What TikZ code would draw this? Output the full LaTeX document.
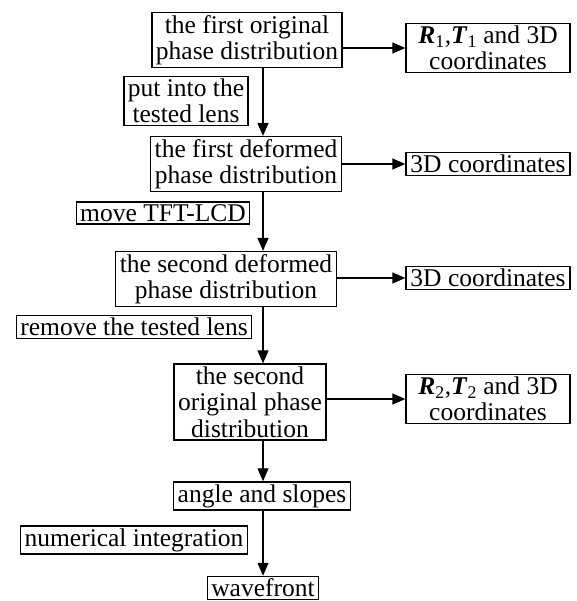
\documentclass[tikz,border=0pt]{standalone}
\usepackage{fontspec}
\setmainfont{Liberation Serif}
\usetikzlibrary{arrows.meta}

\begin{document}
\begin{tikzpicture}[x=1pt,y=-1pt]
\tikzstyle stagebox=[draw, line width=1.3pt, align=center, inner xsep=4pt, inner ysep=2.5pt, font=\fontsize{25.5}{26.5}\selectfont];
\tikzstyle tagbox=[stagebox];
\tikzstyle resbox=[stagebox, minimum width=164pt];
\tikzstyle flowline=[line width=1.3pt, -{Triangle[length=13pt,width=11pt]}];
\useasboundingbox (0,0) rectangle (576,601);
\coordinate (spine) at (263,0);
% main column
\node[stagebox] (orig1) at (247,40) {the first original\\phase distribution};
\node[stagebox] (def1) at (246,164) {the first deformed\\phase distribution};
\node[stagebox] (def2) at (226,279) {the second deformed\\phase distribution};
\node[stagebox] (orig2) at (250,402) {the second\\original phase\\distribution};
\node[stagebox] (slopes) at (262,496) {angle and slopes};
\node[stagebox] (wave) at (263,588) {wavefront};
% results
\node[resbox] (res1) at (488,48) {\textbf{\textit{R}}\textsubscript{1},\textbf{\textit{T}}\textsubscript{1} and 3D\\coordinates};
\node[resbox] (res2) at (488,164) {3D coordinates};
\node[resbox] (res3) at (488,278) {3D coordinates};
\node[resbox] (res4) at (488,399) {\textbf{\textit{R}}\textsubscript{2},\textbf{\textit{T}}\textsubscript{2} and 3D\\coordinates};
% operations
\node[tagbox] (lensin) at (186,101) {put into the\\tested lens};
\node[tagbox] (move) at (163,213) {move TFT-LCD};
\node[tagbox] (lensout) at (134,327) {remove the tested lens};
\node[tagbox] (integ) at (134,540) {numerical integration};
% arrows
\draw[flowline] (orig1.south -| spine) -- (def1.north -| spine);
\draw[flowline] (def1.south -| spine) -- (def2.north -| spine);
\draw[flowline] (def2.south -| spine) -- (orig2.north -| spine);
\draw[flowline] (orig2.south -| spine) -- (slopes.north -| spine);
\draw[flowline] (slopes.south -| spine) -- (wave.north -| spine);
\draw[flowline] (orig1.east |- res1.west) -- (res1.west);
\draw[flowline] (def1.east |- res2.west) -- (res2.west);
\draw[flowline] (def2.east |- res3.west) -- (res3.west);
\draw[flowline] (orig2.east |- res4.west) -- (res4.west);
\end{tikzpicture}
\end{document}
